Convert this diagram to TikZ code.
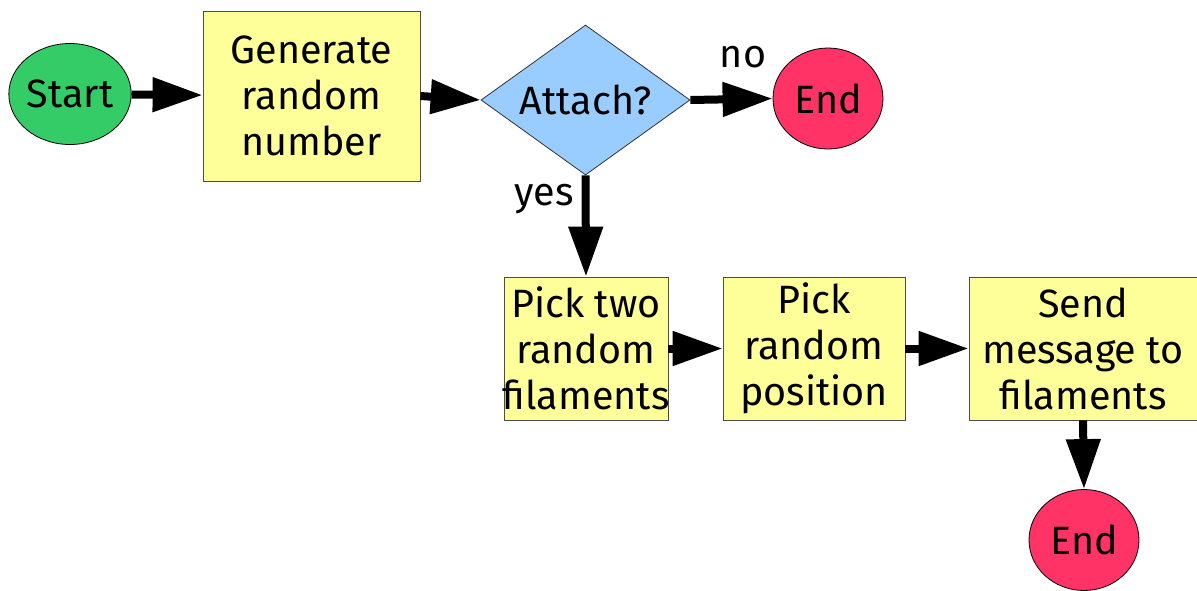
\documentclass[tikz,border=0pt]{standalone}
\usepackage{fontspec}
\setmainfont{Fira Sans}
\usetikzlibrary{shapes.geometric,arrows.meta}
\definecolor{startgreen}{HTML}{33CC66}
\definecolor{boxyellow}{HTML}{FFFF99}
\definecolor{askblue}{HTML}{99CCFF}
\definecolor{endred}{HTML}{FF3366}
\tikzset{
  x=1pt, y=-1pt,
  every node/.style={font=\fontsize{39.5}{46}\selectfont, align=center, inner sep=0pt},
  oval/.style={ellipse, draw=black, line width=0.8pt},
  stepbox/.style={rectangle, draw=black!70, line width=0.8pt, fill=boxyellow},
  askshape/.style={diamond, draw=black!80, line width=0.8pt, fill=askblue, aspect=1.4},
  flow/.style={line width=8pt, -{Triangle[length=50pt,width=33pt]}},
}
\begin{document}
\begin{tikzpicture}
\useasboundingbox (0,0) rectangle (1197,590);
\node[oval, fill=startgreen, minimum width=118pt, minimum height=101pt] (start) at (70,94) {Start};
\node[stepbox, minimum width=217pt, minimum height=170pt] (gen) at (311.5,96) {Generate\\random\\number};
\node[askshape, minimum width=209pt, minimum height=150pt] (ask) at (585.5,100) {Attach?};
\node[oval, fill=endred, minimum width=110pt, minimum height=101pt] (end1) at (828,98.5) {End};
% the last word runs a little past the narrow box on both sides
\node[stepbox, minimum width=164pt, minimum height=143pt] (pick2) at (586,348.5) {Pick two\\random\\\makebox[150pt]{filaments}};
\node[stepbox, minimum width=182pt, minimum height=143pt] (pos) at (814,348.5) {Pick\\random\\position};
\node[stepbox, minimum width=228pt, minimum height=143pt] (send) at (1083,348.5) {Send\\message to\\filaments};
\node[oval, fill=endred, minimum width=110pt, minimum height=101pt] (end2) at (1084,540) {End};

\draw[flow] (start) -- (gen);
\draw[flow] (gen.east) -- (ask.west);
\draw[flow] (ask.east) -- (end1.west);
\draw[flow] (ask.south) -- (pick2.north);
\draw[flow] (pick2) -- (pos);
\draw[flow] (pos) -- (send);
\draw[flow] (send.south) -- (end2.north);

\node (no) at (743,57) {no};
\node (yes) at (544,199) {yes};
\end{tikzpicture}
\end{document}
